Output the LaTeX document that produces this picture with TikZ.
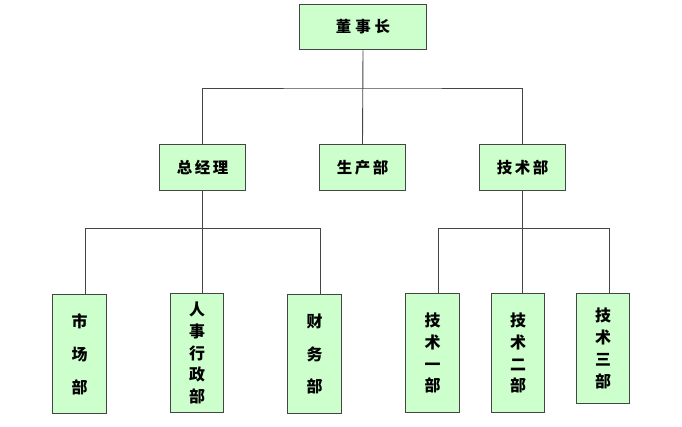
\documentclass[tikz,border=0pt]{standalone}
\usepackage{fontspec}
\usepackage{xcolor}
\usetikzlibrary{calc}
\newfontfamily\cjk{Noto Sans CJK SC}
\definecolor{boxfill}{HTML}{CCFFCC}
\definecolor{edge}{HTML}{454545}
\tikzset{
  box/.style={draw=edge, fill=boxfill, line width=1.1pt, minimum width=86, minimum height=46,
    inner sep=0pt, font=\cjk\bfseries\fontsize{15.5}{18}\selectfont},
  vbox/.style={draw=edge, fill=boxfill, line width=1.1pt, minimum width=54, minimum height=120,
    inner sep=0pt, align=center, font=\cjk\bfseries\fontsize{16}{#1}\selectfont},
  wire/.style={draw=edge, line width=0.9pt}
}
\begin{document}
\begin{tikzpicture}[x=1bp,y=-1bp]
\fill[white] (0,0) rectangle (682,426);
\useasboundingbox (0,0) rectangle (682,426);
% top and middle level
\node[box, minimum width=128] (chair) at (363,27) {董\hspace{4bp}事\hspace{4bp}长};
\node[box] (gm) at (202.5,167.5) {总\,经\,理};
\node[box] (prod) at (362.5,167.5) {生\,产\,部};
\node[box] (tech) at (522.5,167.5) {技\,术\,部};
% bottom level
\node[vbox=33] (mkt) at (79.5,354) {市\\场\\部};
\node[vbox=22] (hr) at (197,353) {人\\事\\行\\政\\部};
\node[vbox=33] (fin) at (314.5,354) {财\\务\\部};
\node[vbox=22] (techA) at (432.5,353) {技\\术\\一\\部};
\node[vbox=22] (techB) at (518,353) {技\\术\\二\\部};
\node[vbox=22, minimum height=111] (techC) at (603,348.5) {技\\术\\三\\部};

% buses
\coordinate (busA) at (363,88);
\coordinate (busL) at (202.5,228);
\coordinate (busR) at (522.5,228);
\coordinate (mktT) at (85,228);
\coordinate (finT) at (320,228);
\coordinate (techAT) at (438,228);
\coordinate (techCT) at (609,228);

\draw[wire] (chair.south) -- (prod.north);
\draw[wire] (gm.north) |- (busA) -| (tech.north);
\draw[wire] (gm.south) -- (busL);
\draw[wire] (tech.south) -- (busR);
\draw[wire] (mktT) -- (finT);
\draw[wire] (techAT) -- (techCT);
\draw[wire] (mktT) -- (mktT |- mkt.north);
\draw[wire] (busL) -- (busL |- hr.north);
\draw[wire] (finT) -- (finT |- fin.north);
\draw[wire] (techAT) -- (techAT |- techA.north);
\draw[wire] (busR) -- (busR |- techB.north);
\draw[wire] (techCT) -- (techCT |- techC.north);
\end{tikzpicture}
\end{document}
